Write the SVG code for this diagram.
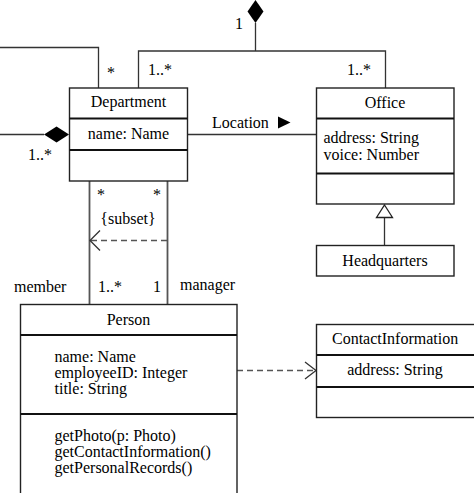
<svg xmlns="http://www.w3.org/2000/svg" width="474" height="493" viewBox="0 0 474 493">
<style>
.box{fill:#fff;stroke:#222;stroke-width:1.4}
.div{stroke:#111;stroke-width:2.2}
.ln{fill:none;stroke:#333;stroke-width:1.3}
.gl{fill:none;stroke:#555;stroke-width:1.8}
.dash{fill:none;stroke:#555;stroke-width:1.4;stroke-dasharray:6,4}
</style>
<rect width="474" height="493" fill="#fff"/>
<g id="connectors">
  <path class="ln" d="M255.5,23 V51 M138.5,88 V51 H385.5 V88"/>
  <path d="M255.5,0 L263.5,11.5 L255.5,23 L247.5,11.5 Z" fill="#000"/>
  <path class="ln" d="M0,47.5 H98.5 V88"/>
  <path class="ln" d="M0,134.5 H44"/>
  <path d="M44,134.5 L56.5,126.5 L69,134.5 L56.5,142.5 Z" fill="#000"/>
  <path class="ln" d="M187.5,134.5 H316.5"/>
  <path d="M278,116.5 L290.5,122.5 L278,128.5 Z" fill="#000"/>
  <path class="gl" d="M89.5,181 V304.5 M167.5,181 V304.5"/>
  <path class="dash" d="M167,240.5 H91"/>
  <path class="ln" d="M100,230.5 L90,240.5 L100,250.5"/>
  <path class="ln" d="M384.5,217 V245.5"/>
  <path d="M384.5,205 L392.5,217.5 L376.5,217.5 Z" fill="#fff" stroke="#222" stroke-width="1.3"/>
  <path class="dash" d="M237,370.5 H314"/>
  <path class="ln" d="M305,362 L316,370.5 L305,379"/>
  <text x="235" y="29" font-family="Liberation Serif" font-size="16">1</text>
  <text x="148" y="75" font-family="Liberation Serif" font-size="16">1..*</text>
  <text x="347" y="75" font-family="Liberation Serif" font-size="16">1..*</text>
  <text x="107" y="78" font-family="Liberation Serif" font-size="16">*</text>
  <text x="28" y="160" font-family="Liberation Serif" font-size="16">1..*</text>
  <text x="212" y="128" font-family="Liberation Serif" font-size="16">Location</text>
  <text x="97" y="200" font-family="Liberation Serif" font-size="16">*</text>
  <text x="153" y="200" font-family="Liberation Serif" font-size="16">*</text>
  <text x="128" y="224" text-anchor="middle" font-family="Liberation Serif" font-size="16">{subset}</text>
  <text x="14" y="292" font-family="Liberation Serif" font-size="16">member</text>
  <text x="98" y="292" font-family="Liberation Serif" font-size="16">1..*</text>
  <text x="153" y="292" font-family="Liberation Serif" font-size="16">1</text>
  <text x="180" y="290" font-family="Liberation Serif" font-size="16">manager</text>
</g>
<g id="department">
  <rect class="box" x="69.5" y="88" width="118" height="93"/>
  <path class="div" d="M69.5,118.5 H187.5 M69.5,150 H187.5"/>
  <text x="128.5" y="107" text-anchor="middle" font-family="Liberation Serif" font-size="16">Department</text>
  <text x="128.5" y="139" text-anchor="middle" font-family="Liberation Serif" font-size="16">name: Name</text>
</g>
<g id="office">
  <rect class="box" x="316.5" y="88" width="137.5" height="116"/>
  <path class="div" d="M316.5,118.5 H454 M316.5,173.5 H454"/>
  <text x="385" y="108" text-anchor="middle" font-family="Liberation Serif" font-size="16">Office</text>
  <text x="323.5" y="143" font-family="Liberation Serif" font-size="16">address: String</text>
  <text x="323.5" y="160" font-family="Liberation Serif" font-size="16">voice: Number</text>
</g>
<g id="headquarters">
  <rect class="box" x="316.5" y="245.5" width="137.5" height="30.5"/>
  <text x="385" y="266" text-anchor="middle" font-family="Liberation Serif" font-size="16">Headquarters</text>
</g>
<g id="person">
  <rect class="box" x="20.5" y="304.5" width="216.5" height="200"/>
  <path class="div" d="M20.5,335 H237 M20.5,414 H237"/>
  <text x="128.5" y="325" text-anchor="middle" font-family="Liberation Serif" font-size="16">Person</text>
  <text x="54.5" y="362" font-family="Liberation Serif" font-size="16">name: Name</text>
  <text x="54.5" y="378" font-family="Liberation Serif" font-size="16">employeeID: Integer</text>
  <text x="54.5" y="394" font-family="Liberation Serif" font-size="16">title: String</text>
  <text x="54.5" y="441" font-family="Liberation Serif" font-size="16">getPhoto(p: Photo)</text>
  <text x="54.5" y="457" font-family="Liberation Serif" font-size="16">getContactInformation()</text>
  <text x="54.5" y="473" font-family="Liberation Serif" font-size="16">getPersonalRecords()</text>
</g>
<g id="contactinformation">
  <rect class="box" x="316.5" y="324.5" width="170" height="93"/>
  <path class="div" d="M316.5,355 H474 M316.5,387 H474"/>
  <text x="332" y="344" font-family="Liberation Serif" font-size="16">ContactInformation</text>
  <text x="395" y="375" text-anchor="middle" font-family="Liberation Serif" font-size="16">address: String</text>
</g>
</svg>
